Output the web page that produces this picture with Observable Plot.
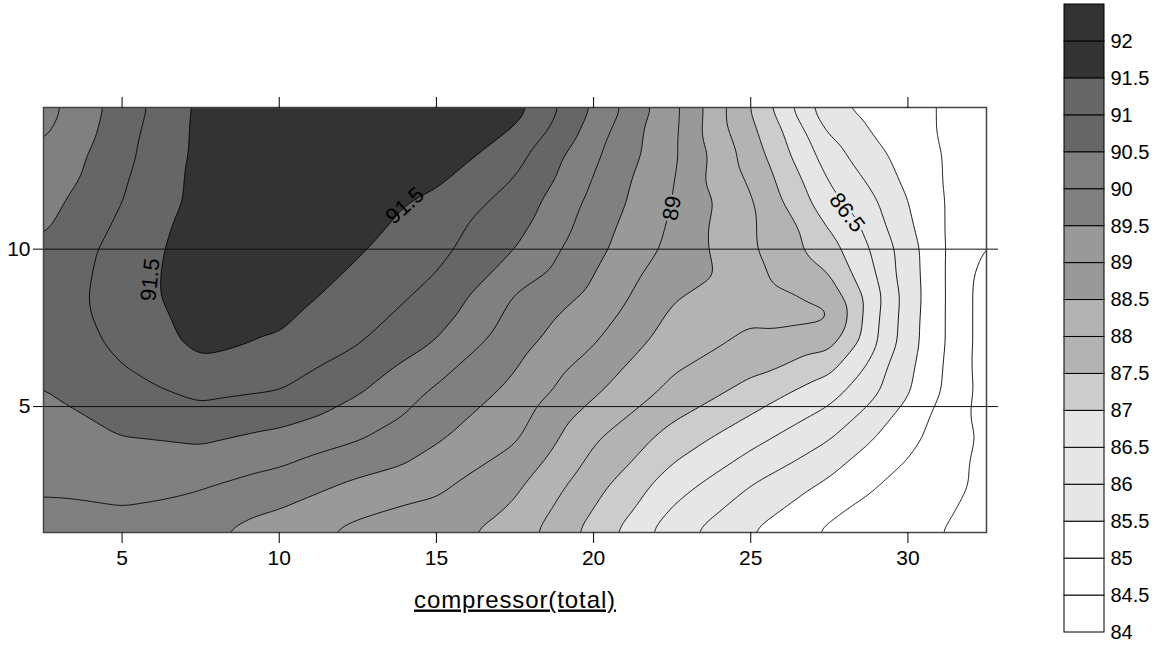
<!DOCTYPE html>
<html>
<head>
<meta charset="utf-8">
<script src="https://cdn.jsdelivr.net/npm/d3@7"></script>
<script src="https://cdn.jsdelivr.net/npm/@observablehq/plot@0.6"></script>
<style>
  html, body { margin: 0; padding: 0; background: #fff; }
  #wrap { position: relative; width: 1159px; height: 646px; background: #fff; font-family: "Liberation Sans", Arial, sans-serif; }
  #wrap svg { position: absolute; top: 0; overflow: visible; }
</style>
</head>
<body>
<div id="wrap"></div>
<script>
// ---- data ----
const gridX = [2.5, 5, 7.5, 10, 12.5, 15, 17.5, 20, 22.5, 25, 27.5, 30, 32.5];
const gridY = [1, 2.5, 4, 5.5, 7, 8.5, 10, 11.5, 13, 14.5];
// rows follow gridY (bottom to top), columns follow gridX
const gridZ = [
  [89.85, 89.85, 89.60, 89.23, 88.85, 88.70, 88.26, 87.31, 86.20, 85.50, 84.89, 84.60, 84.30],
  [90.05, 90.12, 90.05, 89.78, 89.40, 89.10, 88.60, 87.68, 86.74, 86.00, 85.39, 84.83, 84.40],
  [90.26, 90.49, 90.58, 90.37, 90.04, 89.56, 89.06, 88.07, 87.31, 86.67, 86.03, 85.14, 84.40],
  [90.49, 90.85, 91.13, 91.00, 90.55, 89.93, 89.38, 88.58, 87.88, 87.34, 86.71, 85.55, 84.30],
  [90.60, 91.12, 91.62, 91.44, 91.02, 90.46, 89.68, 89.02, 88.24, 87.88, 87.65, 85.72, 84.25],
  [90.65, 91.26, 91.75, 91.70, 91.30, 90.85, 89.97, 89.38, 88.55, 88.20, 87.80, 85.78, 84.25],
  [90.55, 91.20, 91.75, 91.85, 91.55, 91.14, 90.50, 89.65, 88.87, 88.07, 87.20, 85.73, 84.45],
  [90.32, 91.00, 91.65, 91.85, 91.75, 91.36, 90.81, 89.86, 89.00, 88.06, 86.67, 85.50, 84.60],
  [90.05, 90.86, 91.62, 91.85, 91.95, 91.85, 91.17, 90.10, 89.11, 87.78, 86.23, 85.30, 84.75],
  [89.80, 90.72, 91.60, 91.85, 91.90, 91.85, 91.70, 90.45, 89.17, 87.48, 85.60, 85.13, 84.80]
];
// two extra columns in the steep right-hand part (rows follow gridY)
const extraColX = [28.75, 31.25];
const extraColZ = [
  [84.75, 85.06, 85.56, 86.19, 86.73, 86.86, 86.53, 86.16, 85.70, 85.33],
  [84.48, 84.62, 84.75, 84.90, 84.96, 84.96, 84.96, 84.96, 84.95, 84.95]
];
// extra samples describing the tongue near x = 27
const tongueX = [26.3, 27.5, 26.5, 26.5];
const tongueY = [8.05, 7.95, 9.3, 7.2];
const tongueZ = [88.18, 88.1, 87.75, 87.85];

const levels = d3.range(84, 92.51, 0.5);           // contour thresholds
const bandBreaks = [85.5, 87, 87.5, 88.5, 89.5, 90.5, 91.5];
const bandColors = ["#ffffff", "#e6e6e6", "#cccccc", "#b3b3b3", "#999999", "#808080", "#666666", "#333333"];

const xTicks = [5, 10, 15, 20, 25, 30];
const yTicks = [5, 10];
const xTitle = "compressor(total)";

const labelText = ["91.5", "91.5", "89", "86.5"];
const labelX = [5.9, 14.0, 22.5, 28.06];
const labelY = [9.03, 11.38, 11.3, 11.16];
const labelAngle = [-84, -42, -80, 52];
const labelHalo = ["none", "none", "#999999", "#e6e6e6"];

const legendLows = d3.range(84, 92.01, 0.5);
const legendTicks = d3.range(84, 92.01, 0.5);

// ---- build tables ----
const points = [];
gridY.forEach((y, j) => gridX.forEach((x, i) => points.push({x, y, v: gridZ[j][i]})));
extraColX.forEach((x, i) => gridY.forEach((y, j) => points.push({x, y, v: extraColZ[i][j]})));
tongueX.forEach((x, i) => points.push({x, y: tongueY[i], v: tongueZ[i]}));

const colorOpts = {type: "threshold", domain: bandBreaks, range: bandColors};
const font = "'Liberation Sans', Arial, sans-serif";

const labelMarks = labelText.map((t, i) => Plot.text([i], {
  x: () => labelX[i], y: () => labelY[i], text: () => labelText[i],
  rotate: labelAngle[i], fontSize: 22, fill: "black",
  stroke: labelHalo[i], strokeWidth: 5, paintOrder: "stroke"
}));

const main = Plot.plot({
  width: 1050, height: 646,
  marginLeft: 43, marginRight: 64, marginTop: 107, marginBottom: 114,
  x: {domain: [2.5, 32.5]},
  y: {domain: [1, 14.5]},
  color: colorOpts,
  style: {fontFamily: font, fontSize: "21px", color: "black", background: "transparent"},
  marks: [
    Plot.contour(points, {
      x: "x", y: "y", fill: "v", thresholds: levels,
      interpolate: "barycentric", pixelSize: 2, blur: 3,
      stroke: "black", strokeWidth: 0.9
    }),
    Plot.ruleY(yTicks, {stroke: "#111", strokeWidth: 1, insetRight: -12}),
    Plot.frame({stroke: "#444", strokeWidth: 1.5}),
    Plot.axisX({anchor: "bottom", ticks: xTicks, tickSize: 11, tickPadding: 7, tickFormat: d => String(d), label: null, stroke: "black"}),
    Plot.axisX({anchor: "top", ticks: xTicks, tickSize: 11, tickFormat: () => "", label: null, stroke: "black"}),
    Plot.axisY({anchor: "left", ticks: yTicks, tickSize: 10, tickPadding: 3, tickFormat: d => String(d), label: null, stroke: "black"}),
    ...labelMarks,
    Plot.text([xTitle], {text: d => d, frameAnchor: "bottom", dy: 75, fontSize: 24, fill: "black"})
  ]
});
main.style.left = "0px";
for (const t of main.querySelectorAll("text")) {
  if (t.textContent === xTitle) {
    t.setAttribute("text-decoration", "underline");
    t.style.textDecoration = "underline";
    t.style.letterSpacing = "0.9px";
  }
}

const legend = Plot.plot({
  width: 99, height: 646,
  marginLeft: 4, marginRight: 55, marginTop: 4, marginBottom: 14,
  x: {domain: [0, 1], axis: null},
  y: {domain: [84, 92.5]},
  color: colorOpts,
  style: {fontFamily: font, fontSize: "20px", color: "black", background: "transparent"},
  marks: [
    Plot.rect(legendLows, {x1: 0, x2: 1, y1: d => d, y2: d => d + 0.5, fill: d => d, stroke: "black", strokeWidth: 1}),
    Plot.axisY({anchor: "right", ticks: legendTicks, tickSize: 0, tickPadding: 6, tickFormat: d => String(d), label: null})
  ]
});
legend.style.left = "1060px";

const wrap = document.getElementById("wrap");
wrap.appendChild(main);
wrap.appendChild(legend);
</script>
</body>
</html>
